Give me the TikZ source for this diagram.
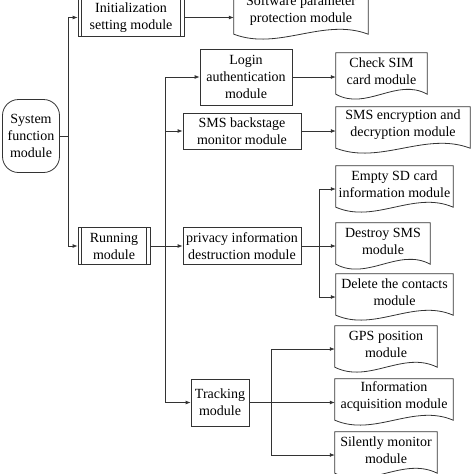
\documentclass[tikz,border=0pt]{standalone}
\usepackage{fontspec}
\setmainfont{Liberation Serif}
\usetikzlibrary{arrows.meta,calc}
\newcommand\docshape[1]{\draw[line] let \p1=(#1.north west), \p2=(#1.south east) in (\x1,\y1) -- (\x2,\y1) -- (\x2,{\y2-5pt}) .. controls ({\x1+0.667*(\x2-\x1)},{\y2+12pt}) and ({\x1+0.333*(\x2-\x1)},{\y2-22pt}) .. (\x1,{\y2-5pt}) -- cycle;}
\newcommand\predef[1]{\draw[line] ([xshift=4pt]#1.north west) -- ([xshift=4pt]#1.south west) ([xshift=-4pt]#1.north east) -- ([xshift=-4pt]#1.south east);}
\begin{document}
\begin{tikzpicture}[x=1pt,y=-1pt,
  every node/.style={font=\fontsize{14}{17}\selectfont, align=center, inner sep=0pt},
  line/.style={draw=black!80, line width=0.8pt},
  arr/.style={line, -{Latex[length=5pt,width=4pt]}},
  box/.style={line, rectangle},
  doc/.style={rectangle},
]
\useasboundingbox (0,0) rectangle (474,474);
% main boxes
\node[box, rounded corners=16pt, minimum width=57pt, minimum height=73pt] (sys) at (31,136) {System\\function\\module};
\node[box, minimum width=106pt, minimum height=37pt] (init) at (131,17.5) {Initialization\\setting module};
\node[box, minimum width=72pt, minimum height=37pt] (run) at (114,246) {Running\\module};
\predef{init}
\predef{run}
\node[box, minimum width=92pt, minimum height=56pt] (login) at (246,77) {Login\\authentication\\module};
\node[box, minimum width=118pt, minimum height=36pt] (smsb) at (242,131) {SMS backstage\\monitor module};
\node[box, minimum width=118pt, minimum height=37pt] (priv) at (242,246) {privacy information\\destruction module};
\node[box, minimum width=58pt, minimum height=47pt] (track) at (220,402.5) {Tracking\\module};
% documents
\node[doc, minimum width=134pt, minimum height=36pt] (soft) at (301,11) {Software parameter\\protection module};
\node[doc, minimum width=91pt, minimum height=36pt] (sim) at (381.5,71) {Check SIM\\card module};
\node[doc, minimum width=134pt, minimum height=36pt] (enc) at (403,125) {SMS encryption and\\decryption module};
\node[doc, minimum width=117pt, minimum height=36pt] (sd) at (394.5,184) {Empty SD card\\information module};
\node[doc, minimum width=94pt, minimum height=36pt] (des) at (383,241) {Destroy SMS\\module};
\node[doc, minimum width=117pt, minimum height=36pt] (del) at (394.5,292) {Delete the contacts\\module};
\node[doc, minimum width=102pt, minimum height=36pt] (gps) at (386,344) {GPS position\\module};
\node[doc, minimum width=118pt, minimum height=36pt] (info) at (394,397) {Information\\acquisition module};
\node[doc, minimum width=102pt, minimum height=36pt] (sil) at (386,450) {Silently monitor\\module};
\docshape{soft}\docshape{sim}\docshape{enc}\docshape{sd}\docshape{des}
\docshape{del}\docshape{gps}\docshape{info}\docshape{sil}
% connectors
\coordinate (j1) at (68,136);
\draw[line] (sys.east) -- (j1);
\draw[arr] (j1) |- (init.west);
\draw[arr] (j1) |- (run.west);
\draw[arr] (init.east) -- (init.east -| soft.west);
\coordinate (j2) at (165,246);
\draw[line] (run.east) -- (j2);
\draw[arr] (j2) -- (priv.west);
\draw[arr] (j2) |- (login.west);
\draw[arr] (j2) |- (smsb.west);
\draw[arr] (j2) |- (track.west);
\draw[arr] (login.east) -- (login.east -| sim.west);
\draw[arr] (smsb.east) -- (smsb.east -| enc.west);
\coordinate (j3) at (319,246);
\draw[line] (priv.east) -- (j3);
\draw[arr] (j3) |- ([yshift=-5pt]sd.west);
\draw[arr] (j3) -- (j3 -| des.west);
\draw[arr] (j3) |- ([yshift=-5pt]del.west);
\coordinate (j4) at (271,402.5);
\draw[line] (track.east) -- (j4);
\draw[arr] (j4) |- ([yshift=-5pt]gps.west);
\draw[arr] (j4) -- (j4 -| info.west);
\draw[arr] (j4) |- ([yshift=-5pt]sil.west);
\end{tikzpicture}
\end{document}
